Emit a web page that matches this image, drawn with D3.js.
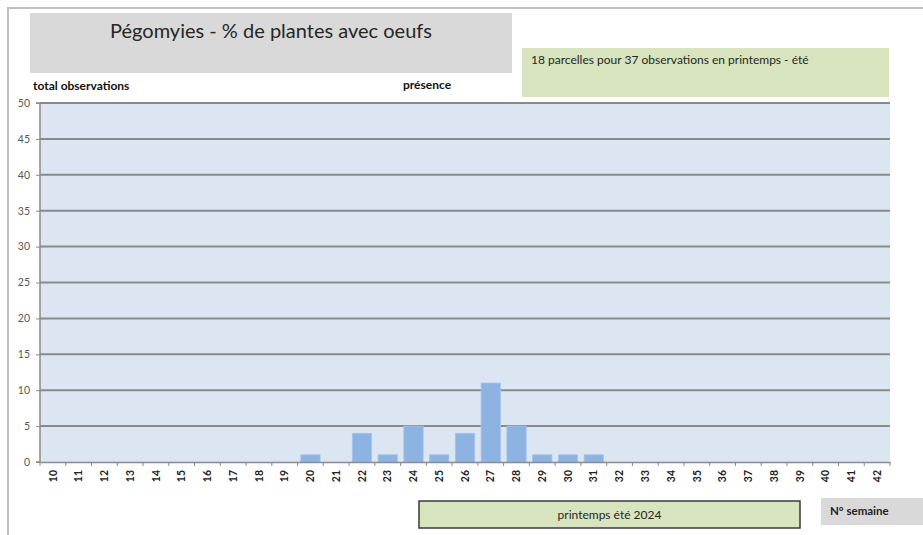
<!DOCTYPE html>
<html><head><meta charset="utf-8">
<script src="https://cdn.jsdelivr.net/npm/d3@7"></script>
<style>body{margin:0;background:#fff}svg{display:block}</style>
</head><body>
<script>
const weeks = d3.range(10, 43).map(String);
const values = [0,0,0,0,0,0,0,0,0,0,1,0,4,1,5,1,4,11,5,1,1,1,0,0,0,0,0,0,0,0,0,0,0];
const yTicks = [0,5,10,15,20,25,30,35,40,45,50];
const titleText = "Pégomyies - % de plantes avec oeufs";
const infoText = "18 parcelles pour 37 observations en printemps - été";
const seasonText = "printemps été 2024";
const xTitle = "N° semaine";
const yTitleLeft = "total observations";
const yTitleMid = "présence";

const W = 923, H = 535;
const font = "Lato, 'Open Sans', sans-serif";
const svg = d3.select("body").append("svg").attr("width", W).attr("height", H);

// outer frame
svg.append("path").attr("d", "M8,535 V8 H923").attr("fill","none").attr("stroke","#c0c0c0").attr("stroke-width",2);

// title box
svg.append("rect").attr("x",30).attr("y",13).attr("width",482).attr("height",60).attr("fill","#d9d9d9");
svg.append("text").attr("x",271).attr("y",38).attr("text-anchor","middle").attr("font-family",font)
  .attr("font-size",20).attr("fill","#262626").text(titleText);

// info box
svg.append("rect").attr("x",522).attr("y",48).attr("width",367).attr("height",49).attr("fill","#d7e4bd");
svg.append("text").attr("x",531).attr("y",64).attr("font-family",font).attr("font-size",12).attr("fill","#262626").text(infoText);

svg.append("text").attr("x",33).attr("y",90).attr("font-family",font).attr("font-size",12).attr("font-weight","bold").attr("fill","#111").text(yTitleLeft);
svg.append("text").attr("x",403).attr("y",89).attr("font-family",font).attr("font-size",12).attr("font-weight","bold").attr("fill","#111").text(yTitleMid);

const m = {l:40, r:890, t:103, b:462};
const x = d3.scaleBand().domain(weeks).range([m.l, m.r]).paddingInner(0.25).paddingOuter(0.125);
const xb = d3.scaleBand().domain(weeks).range([m.l, m.r]);
const y = d3.scaleLinear().domain([0,50]).range([m.b, m.t]);

svg.append("rect").attr("x",m.l).attr("y",m.t).attr("width",m.r-m.l).attr("height",m.b-m.t).attr("fill","#dce6f2");

// gridlines
svg.append("g").selectAll("line").data(yTicks.filter(d=>d>0)).join("line")
  .attr("x1",m.l).attr("x2",m.r).attr("y1",d=>y(d)).attr("y2",d=>y(d))
  .attr("stroke","#8a8a8a").attr("stroke-width",2);

// bars
svg.append("g").selectAll("rect").data(weeks.map((w,i)=>({w,v:values[i]})).filter(d=>d.v>0)).join("rect")
  .attr("x",d=>x(d.w)).attr("width",x.bandwidth())
  .attr("y",d=>y(d.v)).attr("height",d=>y(0)-y(d.v))
  .attr("fill","#8db3e2").attr("stroke","#a6c4ea").attr("stroke-width",0.8);

// y axis
const ya = svg.append("g").attr("transform",`translate(${m.l},0)`)
  .call(d3.axisLeft(y).tickValues(yTicks).tickSize(4).tickPadding(6));
ya.select(".domain").attr("stroke","#8a8a8a").attr("stroke-width",1.5).attr("d",`M-4,${m.b}H0V${m.t}H-4`);
ya.selectAll(".tick line").attr("stroke","#8a8a8a");
ya.selectAll("text").attr("font-family",font).attr("font-size",10.5).attr("fill","#595959");

// x axis
const xa = svg.append("g").attr("transform",`translate(0,${m.b})`)
  .call(d3.axisBottom(xb).tickSize(0).tickPadding(0));
xa.select(".domain").attr("stroke","#8a8a8a").attr("stroke-width",1.5);
xa.selectAll(".tick text").attr("font-family",font).attr("font-size",10.5).attr("font-weight","bold").attr("fill","#222")
  .attr("transform","rotate(-90)").attr("text-anchor","end").attr("dy","0.35em").attr("x",-8).attr("y",0);
xa.append("g").selectAll("line").data(weeks.concat(["end"])).join("line")
  .attr("x1",(d,i)=>m.l + i*xb.step()).attr("x2",(d,i)=>m.l + i*xb.step())
  .attr("y1",0).attr("y2",4).attr("stroke","#8a8a8a");

// season box
svg.append("rect").attr("x",419).attr("y",501).attr("width",381).attr("height",27)
  .attr("fill","#d7e4bd").attr("stroke","#3a3a3a").attr("stroke-width",1.5);
svg.append("text").attr("x",609.5).attr("y",519).attr("text-anchor","middle").attr("font-family",font)
  .attr("font-size",12).attr("fill","#262626").text(seasonText);

// N° semaine box
svg.append("rect").attr("x",821).attr("y",498).attr("width",102).attr("height",27).attr("fill","#d9d9d9");
svg.append("text").attr("x",830).attr("y",515).attr("font-family",font).attr("font-size",11.5).attr("font-weight","bold").attr("fill","#222").text(xTitle);
</script>
</body></html>
